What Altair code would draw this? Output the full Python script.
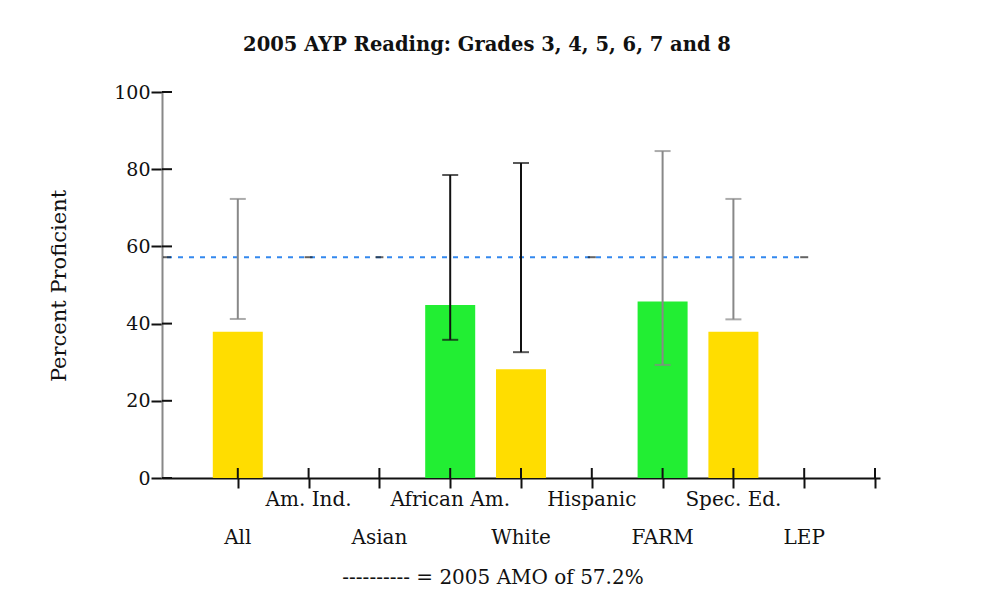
import altair as alt
import pandas as pd

categories = ["All", "Am. Ind.", "Asian", "African Am.", "White", "Hispanic", "FARM", "Spec. Ed.", "LEP"]
positions = [1, 2, 3, 4, 5, 6, 7, 8, 9]
pct_proficient = [37.9, None, None, 44.8, 28.2, None, 45.7, 37.9, None]
ci_low = [41.2, None, None, 35.8, 32.6, None, 29.3, 41.1, None]
ci_high = [72.3, None, None, 78.5, 81.6, None, 84.7, 72.3, None]
bar_group = ["yellow", "", "", "green", "yellow", "", "green", "yellow", ""]
err_group = ["gray", "", "", "black", "black", "", "gray", "gray", ""]
label_row = ["low", "up", "low", "up", "low", "up", "low", "up", "low"]
amo_value = 57.2
amo_marker_pos = [0, 2, 3, 6, 9]
x_tick_values = [1, 2, 3, 4, 5, 6, 7, 8, 9, 10]
y_tick_values = [0, 20, 40, 60, 80, 100]
title_text = "2005 AYP Reading: Grades 3, 4, 5, 6, 7 and 8"
legend_text = "---------- = 2005 AMO of 57.2%"
y_title = "Percent Proficient"

FONT = "DejaVu Serif"
W, H = 718, 386

df = pd.DataFrame({
    "cat": categories, "pos": positions, "val": pct_proficient,
    "lo": ci_low, "hi": ci_high, "bg": bar_group, "eg": err_group, "row": label_row,
})
data_df = df.dropna(subset=["val"])

xs = alt.Scale(domain=[0, 10], nice=False, zero=False)
ys = alt.Scale(domain=[0, 100], nice=False)

base = alt.Chart(data_df)

bars = base.mark_bar(size=50).encode(
    x=alt.X("pos:Q", scale=xs, axis=alt.Axis(values=x_tick_values, labels=False, title=None,
                                              tickSize=10, tickWidth=2, tickColor="#111",
                                              domainColor="#111", domainWidth=2, grid=False)),
    y=alt.Y("val:Q", scale=ys, axis=alt.Axis(values=y_tick_values, title=None, tickSize=11,
                                              tickWidth=2, tickColor="#111", domainColor="#888",
                                              domainWidth=2, labelFont=FONT, labelFontSize=19,
                                              labelColor="#111", labelPadding=1, grid=False)),
    y2=alt.datum(0),
    fill=alt.Fill("bg:N", scale=alt.Scale(domain=["yellow", "green"], range=["#FFDD00", "#22EE33"]),
                  legend=None),
)

amo_line = alt.Chart(pd.DataFrame({"a": [0], "b": [9], "y": [amo_value]})).mark_rule(
    color="#3388EE", strokeWidth=2, strokeDash=[5, 6]
).encode(x=alt.X("a:Q", scale=xs), x2="b:Q", y=alt.Y("y:Q", scale=ys))

amo_marks = alt.Chart(pd.DataFrame({"pos": amo_marker_pos, "y": [amo_value] * len(amo_marker_pos)})).mark_tick(
    orient="horizontal", size=8, thickness=2, color="#222"
).encode(x=alt.X("pos:Q", scale=xs), y=alt.Y("y:Q", scale=ys))

err_scale = alt.Scale(domain=["gray", "black"], range=["#888888", "#111111"])
err_rule = base.mark_rule(strokeWidth=2).encode(
    x=alt.X("pos:Q", scale=xs), y=alt.Y("lo:Q", scale=ys), y2="hi:Q",
    stroke=alt.Stroke("eg:N", scale=err_scale, legend=None))
cap_layers = []
for fld in ["lo", "hi"]:
    cap_layers.append(base.mark_tick(orient="horizontal", size=16, thickness=2, strokeWidth=0).encode(
        x=alt.X("pos:Q", scale=xs), y=alt.Y(f"{fld}:Q", scale=ys),
        fill=alt.Fill("eg:N", scale=err_scale, legend=None)))
caps = alt.layer(*cap_layers)

# inner halves of the crossing axis ticks
xt_inner = alt.Chart(pd.DataFrame({"pos": x_tick_values})).mark_rule(color="#111", strokeWidth=2).encode(
    x=alt.X("pos:Q", scale=xs), y=alt.value(H - 10), y2=alt.value(H))
yt_inner = alt.Chart(pd.DataFrame({"v": y_tick_values})).mark_rule(color="#111", strokeWidth=2).encode(
    y=alt.Y("v:Q", scale=ys), x=alt.value(0), x2=alt.value(10))

lab_df = df
labels_up = alt.Chart(lab_df[lab_df["row"] == "up"]).mark_text(
    font=FONT, fontSize=20, color="#111", baseline="middle", align="center"
).encode(x=alt.X("pos:Q", scale=xs), y=alt.value(408), text="cat:N")
labels_low = alt.Chart(lab_df[lab_df["row"] == "low"]).mark_text(
    font=FONT, fontSize=20, color="#111", baseline="middle", align="center"
).encode(x=alt.X("pos:Q", scale=xs), y=alt.value(446), text="cat:N")

title = alt.Chart(pd.DataFrame({"t": [title_text]})).mark_text(
    font=FONT, fontSize=19.5, fontWeight="bold", color="#111", baseline="middle", align="center"
).encode(x=alt.value(325), y=alt.value(-47), text="t:N")

legend = alt.Chart(pd.DataFrame({"t": [legend_text]})).mark_text(
    font=FONT, fontSize=20, color="#111", baseline="middle", align="center"
).encode(x=alt.value(331), y=alt.value(486), text="t:N")

ytitle = alt.Chart(pd.DataFrame({"t": [y_title]})).mark_text(
    font=FONT, fontSize=21, color="#111", baseline="middle", align="center", angle=270
).encode(x=alt.value(-102), y=alt.value(194), text="t:N")

main = alt.layer(bars, amo_line, amo_marks, err_rule, xt_inner, yt_inner)

chart = alt.layer(
    main, caps, labels_up, labels_low, title, legend, ytitle
).resolve_scale(fill="independent").properties(
    width=W, height=H,
    autosize=alt.AutoSizeParams(type="none"),
    padding={"left": 154, "top": 84, "right": 100, "bottom": 116},
    background="white",
).configure_view(stroke=None)

chart.save("out.html", embed_options={"renderer": "svg", "actions": False})
